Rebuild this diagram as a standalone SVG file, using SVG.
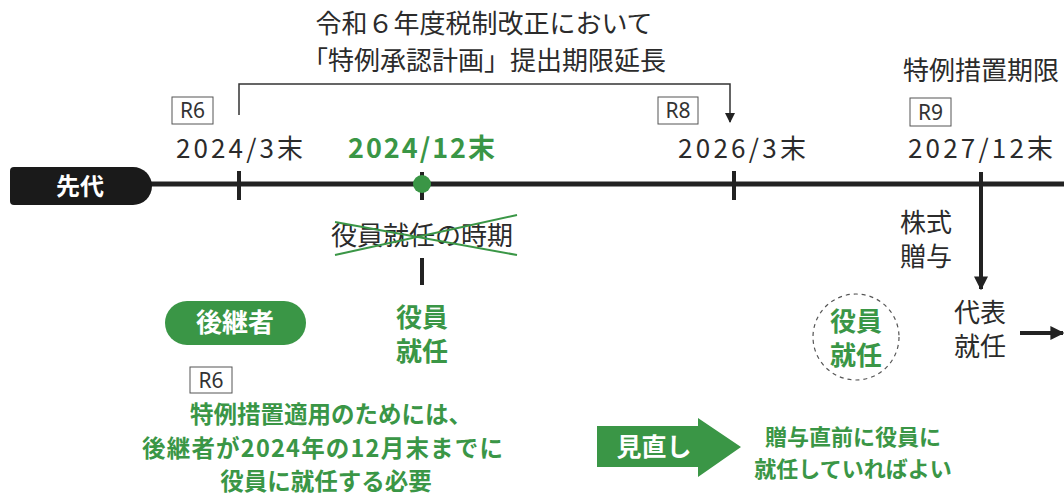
<svg xmlns="http://www.w3.org/2000/svg" width="1064" height="496" viewBox="0 0 1064 496">
<defs>
<style>
.t{font-family:"Noto Sans CJK JP","Noto Sans",sans-serif;fill:#2b2b2b;font-size:26px}
.g{font-family:"Noto Sans CJK JP","Noto Sans",sans-serif;fill:#3a9646;font-weight:700}
.w{font-family:"Noto Sans CJK JP","Noto Sans",sans-serif;fill:#fff;font-weight:700}
.box{fill:#fff;stroke:#555;stroke-width:1}
.bl{font-family:"Noto Sans","Liberation Sans",sans-serif;fill:#333;font-size:21px}
.mid{text-anchor:middle}
</style>
<marker id="ah" viewBox="0 0 10 10" refX="9" refY="5" markerWidth="10" markerHeight="10" markerUnits="userSpaceOnUse" orient="auto"><path d="M0,0L10,5L0,10z" fill="#222"/></marker>
<marker id="ah2" viewBox="0 0 10 10" refX="9" refY="5" markerWidth="14" markerHeight="14" markerUnits="userSpaceOnUse" orient="auto"><path d="M0,0L10,5L0,10z" fill="#222"/></marker>
</defs>
<rect width="1064" height="496" fill="#fff"/>
<g id="title">
<text class="t mid" x="484" y="33">令和６年度税制改正において</text>
<text class="t mid" x="484" y="70">「特例承認計画」提出期限延長</text>
</g>
<g id="timeline">
<line x1="140" y1="184" x2="1064" y2="184" stroke="#222" stroke-width="5"/>
<line x1="239" y1="171" x2="239" y2="200" stroke="#222" stroke-width="4"/>
<line x1="422" y1="172" x2="422" y2="200" stroke="#222" stroke-width="4"/>
<line x1="734" y1="171" x2="734" y2="200" stroke="#222" stroke-width="4"/>
<circle cx="422" cy="184" r="9" fill="#3a9646"/>
</g>
<g id="senndai">
<path d="M14,167 H133 A19,19 0 0 1 133,205 H14 A4,4 0 0 1 10,201 V171 A4,4 0 0 1 14,167 Z" fill="#1a1a1a"/>
<text class="w mid" x="80" y="195" font-size="24">先代</text>
</g>
<g id="r6a"><rect class="box" x="172" y="97" width="41" height="27"/><text class="bl mid" x="192.5" y="118">R6</text></g>
<text class="t" x="176" y="158" font-size="27" textLength="127" lengthAdjust="spacing">2024/3末</text>
<text class="g" x="348" y="158" font-size="27" textLength="147" lengthAdjust="spacing">2024/12末</text>
<g id="r8"><rect class="box" x="658" y="97" width="40" height="27"/><text class="bl mid" x="678" y="118">R8</text></g>
<text class="t" x="678" y="158" font-size="27" textLength="128" lengthAdjust="spacing">2026/3末</text>
<text class="t" x="903" y="80" font-size="25">特例措置期限</text>
<g id="r9"><rect class="box" x="910" y="98" width="41" height="28"/><text class="bl mid" x="930.5" y="120">R9</text></g>
<text class="t" x="908" y="158" font-size="27" textLength="145" lengthAdjust="spacing">2027/12末</text>
<g id="connectors">
<path d="M239,115 V84 H730 V122" fill="none" stroke="#333" stroke-width="1.5" marker-end="url(#ah)"/>
<line x1="981" y1="172" x2="981" y2="289" stroke="#222" stroke-width="4" marker-end="url(#ah2)"/>
<line x1="1020" y1="333" x2="1063" y2="333" stroke="#222" stroke-width="4" marker-end="url(#ah2)"/>
<line x1="422" y1="258" x2="422" y2="285" stroke="#222" stroke-width="4"/>
</g>
<g id="jiki">
<text class="t mid" x="422" y="245" font-size="25">役員就任の時期</text>
<line x1="335" y1="222" x2="517" y2="255" stroke="#3a9646" stroke-width="2"/>
<line x1="335" y1="255" x2="517" y2="215" stroke="#3a9646" stroke-width="2"/>
</g>
<g id="yakuin1">
<text class="g mid" x="422" y="327" font-size="26">役員</text>
<text class="g mid" x="422" y="361" font-size="26">就任</text>
</g>
<g id="koukei">
<rect x="165" y="301" width="141" height="44" rx="22" fill="#3a9646"/>
<text class="w mid" x="235" y="332" font-size="26">後継者</text>
</g>
<g id="r6b"><rect class="box" x="190" y="367" width="42" height="26"/><text class="bl mid" x="211" y="388">R6</text></g>
<g id="note1">
<text class="g mid" x="331" y="423" font-size="23.5">特例措置適用のためには、</text>
<text class="g" x="142" y="457" font-size="23.5" textLength="361" lengthAdjust="spacing">後継者が2024年の12月末までに</text>
<text class="g mid" x="326" y="490" font-size="23.5">役員に就任する必要</text>
</g>
<g id="yakuin2">
<circle cx="856" cy="337" r="43" fill="none" stroke="#555" stroke-width="1.2" stroke-dasharray="4,4"/>
<text class="g mid" x="856" y="331" font-size="26">役員</text>
<text class="g mid" x="856" y="365" font-size="26">就任</text>
</g>
<g id="kabu">
<text class="t" x="900" y="232" font-size="25">株式</text>
<text class="t" x="900" y="266" font-size="25">贈与</text>
</g>
<g id="daihyo">
<text class="t" x="954" y="322" font-size="25">代表</text>
<text class="t" x="954" y="356" font-size="25">就任</text>
</g>
<g id="minaoshi">
<path d="M597,426 H698 V418 L741,447 L698,477 V467 H597 Z" fill="#3a9646"/>
<text class="w mid" x="654" y="456" font-size="25">見直し</text>
</g>
<g id="note2">
<text class="g mid" x="853" y="445" font-size="22">贈与直前に役員に</text>
<text class="g mid" x="853" y="477" font-size="22">就任していればよい</text>
</g>
</svg>
